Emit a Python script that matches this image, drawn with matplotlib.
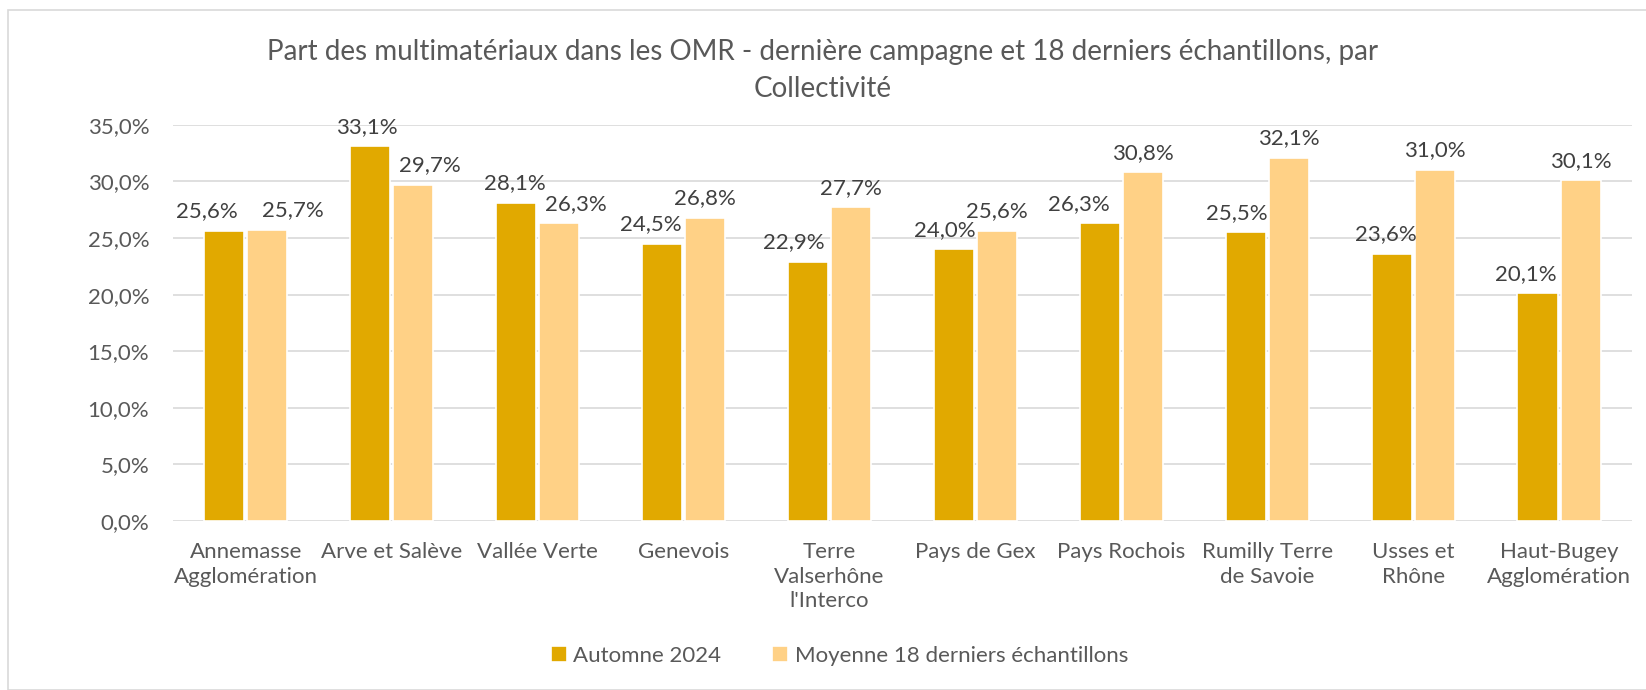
import numpy as np
import matplotlib.pyplot as plt
from matplotlib.patches import Rectangle

# données
collectivites = ["Annemasse\nAgglomération", "Arve et Salève", "Vallée Verte", "Genevois",
                 "Terre\nValserhône\nl'Interco", "Pays de Gex", "Pays Rochois",
                 "Rumilly Terre\nde Savoie", "Usses et\nRhône", "Haut-Bugey\nAgglomération"]
automne_2024 = [25.6, 33.1, 28.1, 24.5, 22.9, 24.0, 26.3, 25.5, 23.6, 20.1]
moyenne_18 = [25.7, 29.7, 26.3, 26.8, 27.7, 25.6, 30.8, 32.1, 31.0, 30.1]
series = ["Automne 2024", "Moyenne 18 derniers échantillons"]

# décalages horizontaux des étiquettes (px), comme dans le graphique Excel
decal_auto = [-17, -3, -1, -11, -14, -9, -21, -9, -6, -12]
decal_moy = [26, 17, 17, 0, 0, 0, 0, 0, 0, 0]

plt.rcParams['font.family'] = ['Lato', 'DejaVu Sans']
gris = '#595959'

fig = plt.figure(figsize=(16.46, 6.9), dpi=100)
ax = fig.add_axes([0.105, 0.245, 0.8865, 0.574])

x = np.arange(len(collectivites))
w = 0.275
b1 = ax.bar(x - w/2 - 0.01, automne_2024, w, color='#E1A900', edgecolor='white', lw=1.2, label=series[0], zorder=3)
b2 = ax.bar(x + w/2 + 0.01, moyenne_18, w, color='#FFD186', edgecolor='white', lw=1.2, label=series[1], zorder=3)

fmt = lambda v: f"{v:.1f}%".replace('.', ',')
for bars, vals, dec in ((b1, automne_2024, decal_auto), (b2, moyenne_18, decal_moy)):
    for r, v, d in zip(bars, vals, dec):
        ax.annotate(fmt(v), (r.get_x() + r.get_width()/2, v), xytext=(d * 0.72, 7),
                    textcoords='offset points', ha='center', va='bottom',
                    fontsize=16, color='#404040')

ax.set_ylim(0, 35)
ax.set_xlim(-0.5, len(collectivites) - 0.5)
ax.set_yticks(np.arange(0, 36, 5))
ax.set_yticklabels([fmt(v) for v in np.arange(0, 36, 5)])
ax.set_xticks(x)
ax.set_xticklabels(collectivites, linespacing=1.3)
ax.tick_params(axis='both', length=0, labelsize=16, labelcolor=gris)
ax.tick_params(axis='y', pad=17)
ax.tick_params(axis='x', pad=15)
ax.grid(axis='y', color='#D9D9D9', lw=1.2, zorder=0)
for s in ax.spines.values():
    s.set_visible(False)

fig.text(0.5, 0.898, "Part des multimatériaux dans les OMR - dernière campagne et 18 derniers échantillons, par\nCollectivité",
         ha='center', va='center', fontsize=20, color=gris, linespacing=1.5)

fig.legend(loc='center', bbox_to_anchor=(0.51, 0.05), ncol=2, frameon=False,
           fontsize=16, labelcolor=gris, handlelength=0.7, handleheight=0.7,
           handletextpad=0.3, columnspacing=2.3)

fig.patches.append(Rectangle((8/1646, 0), 1.2, 1 - 10/690, transform=fig.transFigure,
                             fill=False, edgecolor='#D9D9D9', lw=1.2))

fig.savefig("out.png", dpi=100)
